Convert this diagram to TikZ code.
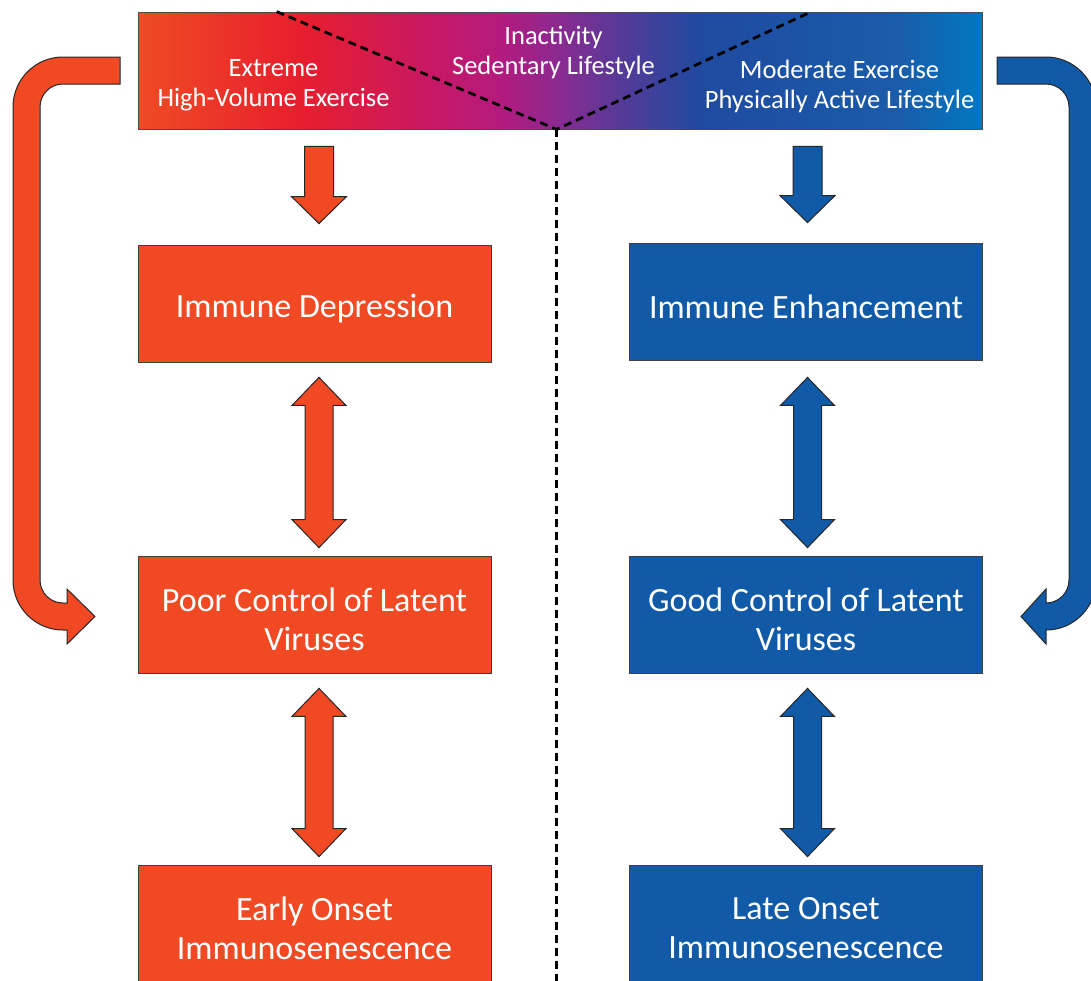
\documentclass[tikz,border=0pt]{standalone}
\usepackage{fontspec}
\setmainfont{Carlito}
\usetikzlibrary{calc}
\definecolor{ored}{RGB}{240,73,35}
\definecolor{oblue}{RGB}{16,90,168}
\definecolor{ga}{RGB}{238,75,36}
\definecolor{gb}{RGB}{232,30,45}
\definecolor{gc}{RGB}{200,24,100}
\definecolor{gd}{RGB}{180,26,125}
\definecolor{ge}{RGB}{140,42,145}
\definecolor{gf}{RGB}{85,58,152}
\definecolor{gg}{RGB}{31,74,160}
\definecolor{gh}{RGB}{26,92,170}
\definecolor{gi}{RGB}{0,120,192}
\pgfdeclarehorizontalshading{bannershade}{100bp}{color(0bp)=(ga); color(25bp)=(ga); color(34.6bp)=(gb); color(42.3bp)=(gc); color(46.4bp)=(gd); color(49.8bp)=(ge); color(53.6bp)=(gf); color(58.3bp)=(gg); color(70.1bp)=(gh); color(75bp)=(gi); color(100bp)=(gi)}
\tikzset{
  boxbase/.style={draw=black!75, line width=0.8pt, minimum width=353, minimum height=117, inner sep=0pt},
  lbox/.style={boxbase, fill=ored},
  rbox/.style={boxbase, fill=oblue},
  boxtext/.style={text=white, align=center, inner sep=0pt, yshift=-5pt, font=\fontsize{34}{39}\selectfont},
  bannerbox/.style={draw=black!70, line width=0.8pt, shading=bannershade, minimum width=844, minimum height=117, inner sep=0pt},
  btext/.style={text=white, align=center, font=\fontsize{26.5}{30}\selectfont, inner sep=0pt},
  divider/.style={draw=black, line width=2.8pt, dash pattern=on 8pt off 5pt},
  blockarr/.style={draw=black!85, line width=1pt}
}
\newcommand{\downarr}[3]{\filldraw[blockarr, fill=#3] let \p1=(#1), \p2=(#2) in
  (\x1-14.5pt,\y1) -- (\x1+14.5pt,\y1) -- (\x1+14.5pt,\y2+27pt) -- (\x1+27.5pt,\y2+27pt) -- (\x1,\y2) -- (\x1-27.5pt,\y2+27pt) -- (\x1-14.5pt,\y2+27pt) -- cycle;}
\newcommand{\dblarr}[3]{\filldraw[blockarr, fill=#3] let \p1=(#1), \p2=(#2) in
  (\x1,\y1) -- (\x1+27pt,\y1-28pt) -- (\x1+14pt,\y1-28pt) -- (\x1+14pt,\y2+28pt) -- (\x1+27pt,\y2+28pt) -- (\x1,\y2) -- (\x1-27pt,\y2+28pt) -- (\x1-14pt,\y2+28pt) -- (\x1-14pt,\y1-28pt) -- (\x1-27pt,\y1-28pt) -- cycle;}
\begin{document}
\begin{tikzpicture}[x=1pt,y=-1pt]
\useasboundingbox (0,0) rectangle (1091,980);
\clip (0,0) rectangle (1091,980);
\fill[white] (0,0) rectangle (1091,980);

% banner
\node[bannerbox] (top) at (560,70.5) {};
\coordinate (apex) at ($(top.south west)+(419,0)$);
\draw[divider] ($(top.north west)+(139,0)$) -- (apex) -- ($(top.north west)+(674,0)$);
\draw[divider] (apex) -- (apex |- 0,990);
\node[btext] (t1) at (273.5,85) {Extreme\\High-Volume Exercise};
\node[btext] (t2) at (553.5,52) {Inactivity\\Sedentary Lifestyle};
\node[btext] (t3) at (839.5,86) {Moderate Exercise\\Physically Active Lifestyle};

% boxes
\node[lbox, label={[boxtext]center:{Immune Depression}}] (l1) at (314.5,303.5) {};
\node[lbox, label={[boxtext]center:{Poor Control of Latent\\Viruses}}] (l2) at (314.5,614.5) {};
\node[lbox, label={[boxtext]center:{Early Onset\\Immunosenescence}}] (l3) at (314.5,923.5) {};
\node[rbox, label={[boxtext]center:{Immune Enhancement}}] (r1) at (806,301.5) {};
\node[rbox, label={[boxtext]center:{Good Control of Latent\\Viruses}}] (r2) at (806,614.5) {};
\node[rbox, label={[boxtext]center:{Late Onset\\Immunosenescence}}] (r3) at (806,923.5) {};

% straight arrows
\coordinate (la0) at ($(l1.north |- top.south)+(4.5,17)$);
\coordinate (la1) at ($(l1.north)+(4.5,-21)$);
\downarr{la0}{la1}{ored}
\coordinate (ra0) at ($(r1.north |- top.south)+(1.5,17)$);
\coordinate (ra1) at ($(r1.north)+(1.5,-20)$);
\downarr{ra0}{ra1}{oblue}

\coordinate (lb0) at ($(l1.south)+(4.5,15)$);
\coordinate (lb1) at ($(l2.north)+(4.5,-8)$);
\dblarr{lb0}{lb1}{ored}
\coordinate (lc0) at ($(l2.south)+(4.5,15)$);
\coordinate (lc1) at ($(l3.north)+(4.5,-8)$);
\dblarr{lc0}{lc1}{ored}
\coordinate (rb0) at ($(r1.south)+(1.5,17)$);
\coordinate (rb1) at ($(r2.north)+(1.5,-8)$);
\dblarr{rb0}{rb1}{oblue}
\coordinate (rc0) at ($(r2.south)+(1.5,15)$);
\coordinate (rc1) at ($(r3.north)+(1.5,-8)$);
\dblarr{rc0}{rc1}{oblue}

% curved side arrows
\filldraw[blockarr, fill=ored] (120,57) -- (63,57) .. controls (35.4,57) and (13,79.4) .. (13,107) -- (13,580) .. controls (13,607.6) and (35.4,630) .. (63,630) -- (67,630) -- (67,644) -- (95,616.5) -- (67,589) -- (67,603) -- (63,603) .. controls (50.3,603) and (40,592.7) .. (40,580) -- (40,107) .. controls (40,94.3) and (50.3,84) .. (63,84) -- (120,84) -- cycle;
\filldraw[blockarr, fill=oblue] (997,57) -- (1046,57) .. controls (1073.6,57) and (1096,79.4) .. (1096,107) -- (1096,580) .. controls (1096,607.6) and (1073.6,630) .. (1046,630) -- (1046,644) -- (1021,616.5) -- (1046,589) -- (1046,603) .. controls (1058.7,603) and (1069,592.7) .. (1069,580) -- (1069,107) .. controls (1069,94.3) and (1058.7,84) .. (1046,84) -- (997,84) -- cycle;
\end{tikzpicture}
\end{document}
